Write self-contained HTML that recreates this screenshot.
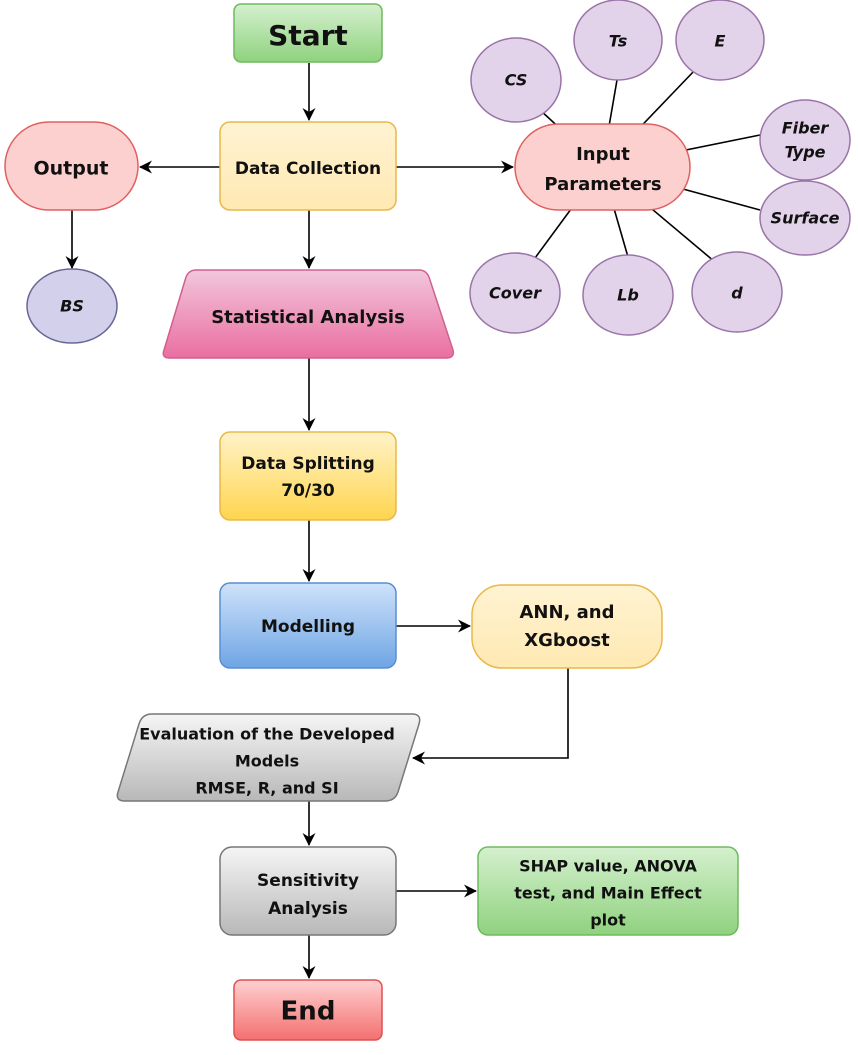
<!DOCTYPE html>
<html><head><meta charset="utf-8"><style>
html,body{margin:0;padding:0;background:#fff}
svg text{font-family:"DejaVu Sans","Liberation Sans",sans-serif;font-weight:bold;fill:#111;text-anchor:middle;dominant-baseline:middle}
</style></head><body>
<svg width="858" height="1050" viewBox="0 0 858 1050" xmlns="http://www.w3.org/2000/svg">
<defs>
<linearGradient id="gG" x1="0" y1="0" x2="0" y2="1"><stop offset="0" stop-color="#d5f0cf"/><stop offset="1" stop-color="#8fd27e"/></linearGradient>
<linearGradient id="gY" x1="0" y1="0" x2="0" y2="1"><stop offset="0" stop-color="#fff3d2"/><stop offset="1" stop-color="#ffe9b3"/></linearGradient>
<linearGradient id="gY2" x1="0" y1="0" x2="0" y2="1"><stop offset="0" stop-color="#fff3c8"/><stop offset="1" stop-color="#ffd54f"/></linearGradient>
<linearGradient id="gP" x1="0" y1="0" x2="0" y2="1"><stop offset="0" stop-color="#f2c7dc"/><stop offset="1" stop-color="#ea6fa0"/></linearGradient>
<linearGradient id="gB" x1="0" y1="0" x2="0" y2="1"><stop offset="0" stop-color="#cfe2fa"/><stop offset="1" stop-color="#6ea5e4"/></linearGradient>
<linearGradient id="gS" x1="0" y1="0" x2="0" y2="1"><stop offset="0" stop-color="#f5f5f5"/><stop offset="1" stop-color="#b8b8b8"/></linearGradient>
<linearGradient id="gR" x1="0" y1="0" x2="0" y2="1"><stop offset="0" stop-color="#ffd0d0"/><stop offset="1" stop-color="#f37070"/></linearGradient>
<marker id="ar" markerWidth="13" markerHeight="13" refX="12" refY="6.5" orient="auto" markerUnits="userSpaceOnUse"><path d="M0,0 L13,6.5 L0,13 L4,6.5 z" fill="#000"/></marker>
</defs>
<g stroke="#000" stroke-width="1.6" fill="none">
<line x1="309" y1="63" x2="309" y2="120" marker-end="url(#ar)"/>
<line x1="220" y1="167" x2="140" y2="167" marker-end="url(#ar)"/>
<line x1="396" y1="167" x2="513" y2="167" marker-end="url(#ar)"/>
<line x1="72" y1="210" x2="72" y2="268" marker-end="url(#ar)"/>
<line x1="309" y1="210" x2="309" y2="268" marker-end="url(#ar)"/>
<line x1="309" y1="358" x2="309" y2="430" marker-end="url(#ar)"/>
<line x1="309" y1="520" x2="309" y2="581" marker-end="url(#ar)"/>
<line x1="396" y1="626" x2="470" y2="626" marker-end="url(#ar)"/>
<polyline points="568,668 568,758 413,758" marker-end="url(#ar)"/>
<line x1="309" y1="801" x2="309" y2="845" marker-end="url(#ar)"/>
<line x1="396" y1="891" x2="476" y2="891" marker-end="url(#ar)"/>
<line x1="309" y1="935" x2="309" y2="978" marker-end="url(#ar)"/>
<line x1="602" y1="167" x2="540" y2="110"/>
<line x1="602" y1="167" x2="617" y2="80"/>
<line x1="602" y1="167" x2="695" y2="70"/>
<line x1="602" y1="167" x2="760" y2="135"/>
<line x1="602" y1="167" x2="760" y2="210"/>
<line x1="602" y1="167" x2="715" y2="262"/>
<line x1="602" y1="167" x2="628" y2="257"/>
<line x1="602" y1="167" x2="535" y2="258"/>
</g>
<rect x="234" y="4" width="148" height="58" rx="7" fill="url(#gG)" stroke="#6fb95e" stroke-width="1.5"/>
<text x="308" y="37" style="font-size:28px">Start</text>
<rect x="220" y="122" width="176" height="88" rx="10" fill="url(#gY)" stroke="#e8b84a" stroke-width="1.5"/>
<text x="308" y="169" style="font-size:17px">Data Collection</text>
<rect x="5" y="122" width="133" height="88" rx="44" fill="#fdd0d0" stroke="#e06060" stroke-width="1.5"/>
<text x="71" y="169" style="font-size:19px">Output</text>
<ellipse cx="72" cy="306" rx="45" ry="37" fill="#d2d0ea" stroke="#6a6696" stroke-width="1.5"/>
<text x="72" y="307" style="font-size:16px;font-style:italic">BS</text>
<rect x="515" y="124" width="175" height="86" rx="43" fill="#fdd0d0" stroke="#e06060" stroke-width="1.5"/>
<text x="603" y="155" style="font-size:18px">Input</text>
<text x="603" y="185" style="font-size:18px">Parameters</text>
<g fill="#e3d3ea" stroke="#9a74a8" stroke-width="1.5">
<ellipse cx="516" cy="80" rx="45" ry="42"/>
<ellipse cx="618" cy="40" rx="44" ry="40"/>
<ellipse cx="720" cy="40" rx="44" ry="40"/>
<ellipse cx="805" cy="140" rx="45" ry="40"/>
<ellipse cx="805" cy="218" rx="45" ry="37"/>
<ellipse cx="737" cy="292" rx="45" ry="40"/>
<ellipse cx="628" cy="295" rx="45" ry="40"/>
<ellipse cx="515" cy="293" rx="45" ry="40"/>
</g>
<g style="font-size:16px;font-style:italic">
<text x="516" y="81">CS</text>
<text x="618" y="42">Ts</text>
<text x="720" y="42">E</text>
<text x="805" y="129">Fiber</text>
<text x="805" y="153">Type</text>
<text x="805" y="219">Surface</text>
<text x="737" y="294">d</text>
<text x="628" y="296">Lb</text>
<text x="515" y="294">Cover</text>
</g>
<path d="M196,270 L419,270 Q426,270 429,277 L453,350 Q455,358 446,358 L170,358 Q161,358 164,350 L186,277 Q189,270 196,270 Z" fill="url(#gP)" stroke="#d0608e" stroke-width="1.5"/>
<text x="308" y="318" style="font-size:18px">Statistical Analysis</text>
<rect x="220" y="432" width="176" height="88" rx="10" fill="url(#gY2)" stroke="#e8b84a" stroke-width="1.5"/>
<text x="308" y="464" style="font-size:17px">Data Splitting</text>
<text x="308" y="491" style="font-size:17px">70/30</text>
<rect x="220" y="583" width="176" height="85" rx="10" fill="url(#gB)" stroke="#5a8ed0" stroke-width="1.5"/>
<text x="308" y="627" style="font-size:17px">Modelling</text>
<rect x="472" y="585" width="190" height="83" rx="30" fill="url(#gY)" stroke="#e8b84a" stroke-width="1.5"/>
<text x="567" y="613" style="font-size:18px">ANN, and</text>
<text x="567" y="641" style="font-size:18px">XGboost</text>
<path d="M152,714 L412,714 Q422,714 419,724 L398,792 Q395,801 385,801 L125,801 Q115,801 118,792 L139,724 Q142,714 152,714 Z" fill="url(#gS)" stroke="#777" stroke-width="1.5"/>
<text x="267" y="735" style="font-size:16px">Evaluation of the Developed</text>
<text x="267" y="762" style="font-size:16px">Models</text>
<text x="267" y="789" style="font-size:16px">RMSE, R, and SI</text>
<rect x="220" y="847" width="176" height="88" rx="12" fill="url(#gS)" stroke="#777" stroke-width="1.5"/>
<text x="308" y="881" style="font-size:17px">Sensitivity</text>
<text x="308" y="909" style="font-size:17px">Analysis</text>
<rect x="478" y="847" width="260" height="88" rx="10" fill="url(#gG)" stroke="#6fb95e" stroke-width="1.5"/>
<text x="608" y="867" style="font-size:16px">SHAP value, ANOVA</text>
<text x="608" y="894" style="font-size:16px">test, and Main Effect</text>
<text x="608" y="921" style="font-size:16px">plot</text>
<rect x="234" y="980" width="148" height="60" rx="7" fill="url(#gR)" stroke="#e05050" stroke-width="1.5"/>
<text x="308" y="1012" style="font-size:26px">End</text>
</svg>
</body></html>
